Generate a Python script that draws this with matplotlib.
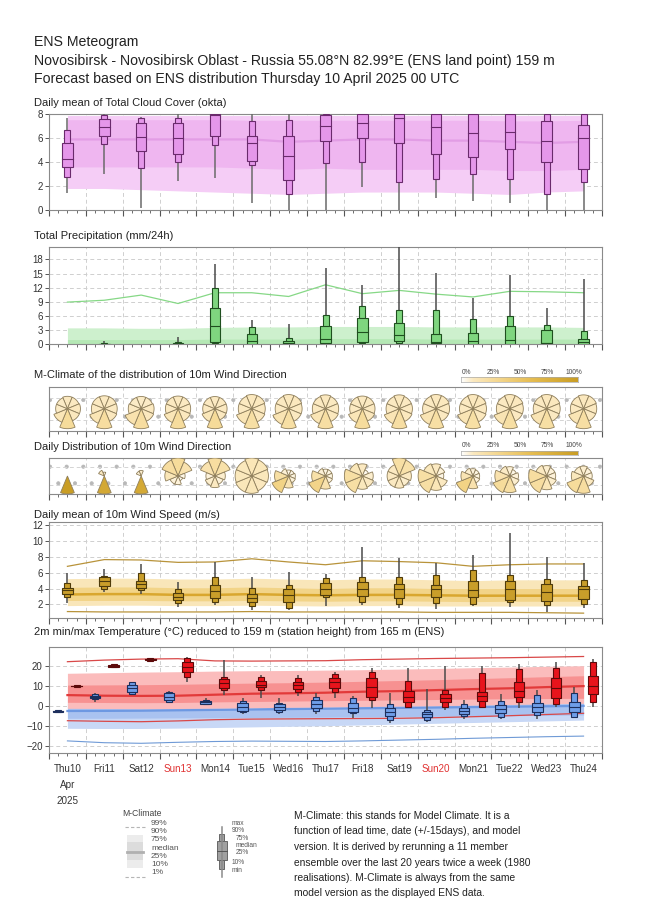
import numpy as np
import matplotlib
matplotlib.use('Agg')
import matplotlib.pyplot as plt
from matplotlib.patches import Rectangle, Polygon
from matplotlib.colors import LinearSegmentedColormap

plt.rcParams['font.family'] = ['Liberation Sans', 'DejaVu Sans']
plt.rcParams['hatch.linewidth'] = 0.5

# ---------------- data ----------------
day_labels = ['Thu10', 'Fri11', 'Sat12', 'Sun13', 'Mon14', 'Tue15', 'Wed16', 'Thu17',
              'Fri18', 'Sat19', 'Sun20', 'Mon21', 'Tue22', 'Wed23', 'Thu24']

# total cloud cover (okta), ENS daily boxes
cloud_min = [1.4, 3.0, 0.2, 2.4, 2.7, 0.6, 0.0, 0.0, 1.9, 0.0, 1.0, 0.75, 0.6, 0.0, 0.0]
cloud_p10 = [2.8, 5.5, 3.5, 4.0, 5.4, 3.8, 1.3, 3.9, 4.0, 2.3, 2.6, 3.0, 2.6, 1.3, 2.3]
cloud_p25 = [3.6, 6.2, 4.9, 4.7, 6.2, 4.1, 2.5, 5.8, 6.0, 5.6, 4.7, 4.4, 5.1, 4.0, 3.4]
cloud_med = [4.3, 6.9, 6.1, 6.0, 7.9, 5.6, 4.5, 7.0, 7.3, 7.7, 6.9, 6.4, 6.5, 5.8, 6.0]
cloud_p75 = [5.6, 7.6, 7.3, 7.3, 8.0, 6.2, 6.2, 7.9, 8.0, 8.0, 8.0, 8.0, 8.0, 7.45, 7.1]
cloud_p90 = [6.7, 7.9, 7.7, 7.7, 8.0, 7.4, 7.5, 8.0, 8.0, 8.0, 8.0, 8.0, 8.0, 8.0, 8.0]
cloud_max = [7.7, 8.0, 7.8, 8.0, 8.0, 8.0, 8.0, 8.0, 8.0, 8.0, 8.0, 8.0, 8.0, 8.0, 8.0]
# cloud M-climate
cloud_c10 = [1.8, 1.8, 1.7, 1.6, 1.5, 1.4, 1.3, 1.4, 1.5, 1.5, 1.5, 1.4, 1.3, 1.5, 1.6]
cloud_c25 = [3.6, 3.6, 3.6, 3.6, 3.6, 3.5, 3.4, 3.5, 3.4, 3.4, 3.4, 3.4, 3.3, 3.3, 3.4]
cloud_c50 = [5.9, 5.9, 5.9, 5.9, 5.9, 5.9, 5.7, 5.8, 5.9, 5.9, 5.8, 5.8, 5.7, 5.6, 5.7]
cloud_c75 = [7.55, 7.55, 7.55, 7.55, 7.55, 7.5, 7.5, 7.5, 7.5, 7.5, 7.5, 7.5, 7.45, 7.45, 7.5]
cloud_c90 = [7.9, 7.9, 7.9, 7.9, 7.9, 7.9, 7.9, 7.9, 7.9, 7.9, 7.9, 7.9, 7.9, 7.9, 7.9]

# total precipitation (mm/24h)
prec_min = [0.0] * 15
prec_p10 = [0, 0, 0, 0, 0.1, 0, 0, 0, 0.1, 0.15, 0, 0, 0, 0, 0]
prec_p25 = [0, 0, 0, 0, 0.3, 0, 0, 0.1, 0.3, 0.5, 0.1, 0, 0, 0.1, 0]
prec_med = [0, 0, 0, 0.05, 3.7, 0.6, 0.1, 1.1, 2.5, 1.9, 0.3, 0.5, 0.8, 0.2, 0.3]
prec_p75 = [0, 0.05, 0, 0.2, 7.6, 2.1, 0.6, 3.9, 5.6, 4.5, 2.1, 2.3, 3.7, 2.9, 1.1]
prec_p90 = [0, 0.1, 0, 0.3, 12.0, 3.6, 1.3, 6.1, 8.0, 7.3, 7.3, 5.4, 6.0, 4.1, 2.8]
prec_max = [0, 0.6, 0, 1.5, 17.0, 5.1, 4.3, 16.1, 12.6, 21.0, 15.2, 9.8, 14.6, 7.7, 13.9]
prec_c75 = [0.9, 0.9, 0.9, 0.9, 1.0, 1.0, 1.0, 1.1, 1.1, 1.1, 1.0, 1.0, 1.0, 1.0, 1.0]
prec_c90 = [3.4, 3.4, 3.3, 3.3, 3.5, 3.6, 3.6, 3.7, 3.7, 3.7, 3.6, 3.6, 3.6, 3.6, 3.5]
prec_c99 = [8.9, 9.3, 10.4, 8.6, 10.9, 10.9, 10.1, 12.6, 10.7, 11.4, 10.6, 10.0, 11.2, 11.1, 10.9]

# 10m wind direction, 8 sectors (N, NE, E, SE, S, SW, W, NW)
wd_mclim = [
    [0.10, 0.10, 0.11, 0.11, 0.26, 0.14, 0.09, 0.09],
    [0.10, 0.10, 0.10, 0.11, 0.24, 0.15, 0.10, 0.10],
    [0.09, 0.09, 0.10, 0.11, 0.24, 0.18, 0.10, 0.09],
    [0.10, 0.10, 0.10, 0.11, 0.25, 0.14, 0.10, 0.10],
    [0.10, 0.10, 0.10, 0.10, 0.27, 0.13, 0.10, 0.10],
    [0.11, 0.11, 0.10, 0.11, 0.22, 0.15, 0.10, 0.10],
    [0.11, 0.11, 0.10, 0.10, 0.22, 0.16, 0.10, 0.10],
    [0.11, 0.10, 0.10, 0.11, 0.23, 0.15, 0.10, 0.10],
    [0.10, 0.10, 0.10, 0.11, 0.25, 0.14, 0.10, 0.10],
    [0.11, 0.10, 0.10, 0.11, 0.23, 0.15, 0.10, 0.10],
    [0.11, 0.11, 0.10, 0.10, 0.22, 0.16, 0.10, 0.10],
    [0.11, 0.11, 0.10, 0.11, 0.22, 0.15, 0.10, 0.10],
    [0.11, 0.11, 0.10, 0.10, 0.22, 0.16, 0.10, 0.10],
    [0.11, 0.11, 0.10, 0.10, 0.22, 0.16, 0.10, 0.10],
    [0.11, 0.11, 0.10, 0.10, 0.23, 0.15, 0.10, 0.10],
]
wd_daily = [
    [0.00, 0.00, 0.00, 0.00, 1.00, 0.00, 0.00, 0.00],
    [0.04, 0.00, 0.00, 0.00, 0.86, 0.00, 0.00, 0.10],
    [0.08, 0.00, 0.00, 0.00, 0.85, 0.00, 0.00, 0.07],
    [0.26, 0.18, 0.04, 0.02, 0.06, 0.06, 0.14, 0.24],
    [0.24, 0.20, 0.08, 0.06, 0.10, 0.08, 0.06, 0.18],
    [0.14, 0.13, 0.12, 0.11, 0.13, 0.13, 0.12, 0.12],
    [0.04, 0.04, 0.05, 0.06, 0.16, 0.36, 0.22, 0.07],
    [0.05, 0.05, 0.05, 0.06, 0.18, 0.34, 0.20, 0.07],
    [0.10, 0.03, 0.08, 0.10, 0.12, 0.22, 0.22, 0.13],
    [0.22, 0.20, 0.10, 0.08, 0.10, 0.10, 0.10, 0.10],
    [0.10, 0.06, 0.04, 0.10, 0.14, 0.22, 0.22, 0.12],
    [0.06, 0.05, 0.05, 0.06, 0.18, 0.36, 0.16, 0.08],
    [0.07, 0.04, 0.06, 0.08, 0.22, 0.26, 0.18, 0.09],
    [0.08, 0.06, 0.06, 0.08, 0.14, 0.24, 0.24, 0.10],
    [0.08, 0.06, 0.06, 0.10, 0.24, 0.26, 0.12, 0.08],
]

# 10m wind speed (m/s)
wind_min = [2.2, 3.6, 3.25, 1.7, 1.9, 1.3, 1.3, 1.8, 1.9, 1.6, 1.4, 1.8, 1.7, 1.0, 1.5]
wind_p10 = [2.95, 3.95, 3.8, 2.2, 2.3, 1.8, 1.5, 2.9, 2.3, 2.1, 2.2, 2.1, 2.3, 1.9, 2.1]
wind_p25 = [3.3, 4.3, 4.1, 2.5, 2.75, 2.3, 2.3, 3.2, 3.0, 2.85, 2.95, 2.9, 2.6, 2.4, 2.65]
wind_med = [3.8, 5.0, 4.6, 2.95, 3.7, 2.85, 3.2, 4.0, 4.0, 3.9, 3.9, 3.8, 3.9, 3.6, 3.9]
wind_p75 = [4.1, 5.4, 5.0, 3.4, 4.4, 3.3, 3.9, 4.7, 4.8, 4.6, 4.5, 5.0, 5.0, 4.6, 4.35]
wind_p90 = [4.75, 5.6, 5.95, 3.9, 5.45, 4.1, 4.5, 5.3, 5.45, 5.4, 5.7, 6.4, 5.7, 5.25, 5.1]
wind_max = [5.95, 6.5, 7.1, 4.8, 7.3, 5.4, 6.1, 5.8, 9.2, 7.8, 7.25, 8.25, 11.0, 7.95, 7.2]
wind_c01 = [1.1, 1.05, 1.05, 1.05, 1.05, 1.1, 1.05, 1.05, 1.05, 1.05, 1.0, 1.0, 1.0, 0.95, 0.9]
wind_c10 = [1.85, 1.9, 1.9, 1.85, 1.85, 1.9, 1.85, 1.8, 1.85, 1.85, 1.8, 1.8, 1.8, 1.8, 1.8]
wind_c25 = [2.5, 2.5, 2.5, 2.45, 2.45, 2.5, 2.45, 2.4, 2.45, 2.45, 2.4, 2.35, 2.4, 2.4, 2.4]
wind_c50 = [3.25, 3.3, 3.3, 3.2, 3.2, 3.3, 3.2, 3.15, 3.2, 3.2, 3.15, 3.1, 3.1, 3.1, 3.1]
wind_c75 = [4.15, 4.2, 4.2, 4.1, 4.1, 4.2, 4.1, 4.0, 4.1, 4.1, 4.0, 4.0, 4.0, 4.0, 4.0]
wind_c90 = [5.25, 5.3, 5.3, 5.2, 5.2, 5.3, 5.2, 5.1, 5.2, 5.2, 5.1, 5.0, 5.1, 5.1, 5.1]
wind_c99 = [6.8, 7.65, 7.6, 7.3, 7.35, 7.75, 7.35, 7.0, 7.5, 7.4, 7.25, 6.8, 7.0, 7.1, 7.1]

# 2m temperature: min (06 UTC slot) and max (18 UTC slot) boxes
# each row: min, p10, p25, median, p75, p90, max
tmin_box = [
    [-3.5, -3.3, -3.0, -2.7, -2.4, -2.2, -2.0],
    [2.0, 3.4, 3.9, 4.4, 5.0, 5.7, 6.2],
    [5.35, 5.85, 7.0, 8.7, 10.35, 11.7, 12.0],
    [1.7, 2.0, 2.85, 4.5, 6.2, 7.0, 7.5],
    [0.35, 0.7, 1.0, 1.7, 2.3, 2.85, 3.7],
    [-4.3, -3.3, -2.65, -0.5, 1.2, 2.35, 4.0],
    [-4.3, -3.3, -2.15, -0.8, 0.7, 1.5, 4.0],
    [-4.3, -2.65, -1.3, 0.85, 2.85, 4.5, 6.2],
    [-6.3, -3.8, -3.0, -1.3, 1.2, 4.0, 5.0],
    [-8.8, -7.15, -5.0, -3.3, -1.3, 0.7, 6.2],
    [-8.0, -7.15, -5.5, -4.0, -3.0, -2.15, 8.2],
    [-6.8, -5.0, -4.3, -2.65, -1.0, 1.0, 2.85],
    [-6.8, -5.5, -3.8, -1.65, 0.35, 2.35, 5.7],
    [-6.8, -4.65, -3.3, -0.5, 1.2, 5.35, 7.85],
    [-6.3, -5.5, -3.3, -0.5, 2.0, 6.2, 9.5],
]
tmax_box = [
    [9.3, 9.5, 9.7, 9.9, 10.1, 10.3, 10.5],
    [19.0, 19.2, 19.6, 20.0, 20.3, 20.7, 21.0],
    [22.2, 22.4, 22.8, 23.2, 23.4, 23.7, 24.0],
    [12.0, 14.5, 17.0, 19.5, 21.7, 23.7, 24.5],
    [5.35, 7.85, 9.0, 11.2, 13.2, 14.2, 22.85],
    [3.7, 7.85, 9.2, 10.35, 12.5, 14.2, 15.35],
    [5.0, 7.0, 8.35, 10.2, 12.0, 13.7, 15.35],
    [3.7, 7.0, 8.7, 12.0, 14.0, 15.7, 17.0],
    [-1.0, 2.85, 4.5, 9.5, 13.7, 16.7, 18.7],
    [-1.0, -0.5, 1.7, 4.5, 7.35, 12.35, 19.0],
    [-2.15, -0.5, 1.7, 4.0, 5.85, 7.85, 20.0],
    [-1.0, -0.5, 2.35, 4.85, 7.0, 16.2, 20.0],
    [-1.3, 2.0, 4.5, 7.35, 11.7, 18.35, 20.7],
    [-0.5, 0.85, 3.7, 8.7, 13.7, 19.0, 22.0],
    [-0.5, 2.0, 5.7, 9.85, 14.85, 22.0, 23.2],
]
tmax_c01 = [-7.5, -7.8, -8.0, -7.6, -7.0, -6.7, -6.6, -6.5, -6.4, -6.3, -6.0, -5.5, -5.0, -4.4, -3.8]
tmax_c10 = [-1.3, -1.4, -1.5, -1.4, -1.2, -1.0, -0.8, -0.6, -0.4, -0.2, 0.0, 0.3, 0.6, 0.9, 1.2]
tmax_c25 = [1.7, 1.6, 1.5, 1.6, 1.9, 2.1, 2.3, 2.5, 2.7, 2.9, 3.1, 3.3, 3.5, 3.6, 3.7]
tmax_c50 = [5.3, 5.0, 4.9, 5.0, 5.5, 6.0, 6.2, 6.5, 7.0, 7.3, 7.8, 8.3, 8.7, 9.3, 9.8]
tmax_c75 = [10.3, 10.4, 10.5, 10.7, 11.0, 11.3, 11.5, 11.8, 12.2, 12.6, 13.0, 13.5, 14.0, 14.5, 15.0]
tmax_c90 = [16.2, 16.5, 16.8, 17.0, 17.3, 17.5, 17.6, 17.8, 18.0, 18.3, 18.6, 19.0, 19.3, 19.7, 20.0]
tmax_c99 = [22.0, 22.8, 23.3, 23.5, 22.4, 22.3, 22.4, 22.5, 23.0, 23.3, 23.6, 23.8, 24.0, 24.3, 24.6]
tmin_c01 = [-17.6, -18.5, -18.8, -18.3, -17.9, -17.7, -17.8, -17.9, -17.6, -17.2, -16.8, -16.3, -15.9, -15.5, -15.2]
tmin_c10 = [-11.3, -11.4, -11.4, -11.2, -10.9, -10.6, -10.3, -10.0, -9.6, -9.2, -8.8, -8.4, -8.0, -7.6, -7.2]
tmin_c25 = [-6.3, -6.3, -6.2, -6.1, -6.0, -5.9, -5.8, -5.7, -5.5, -5.4, -5.3, -5.1, -5.0, -4.8, -4.6]
tmin_c50 = [-2.65, -2.6, -2.5, -2.3, -2.1, -1.9, -1.7, -1.5, -1.3, -1.1, -0.9, -0.7, -0.5, -0.3, -0.1]
tmin_c75 = [1.0, 1.0, 1.1, 1.2, 1.4, 1.6, 1.8, 2.0, 2.2, 2.4, 2.6, 2.8, 3.0, 3.2, 3.4]
tmin_c90 = [4.0, 4.0, 4.1, 4.3, 4.5, 4.7, 4.9, 5.1, 5.3, 5.5, 5.7, 5.9, 6.1, 6.3, 6.5]

# ---------------- layout helpers ----------------
W, H = 650, 916
X0, X1 = 49, 602
PXD = (X1 - X0) / 15.0      # pixels per day
BN = 6.0 / PXD              # narrow box width (days)
BW = 10.5 / PXD             # wide box width (days)
xc = np.arange(15) + 0.5

fig = plt.figure(figsize=(W / 100, H / 100), dpi=100)


def make_ax(top, bottom):
    return fig.add_axes([X0 / W, 1 - bottom / H, (X1 - X0) / W, (bottom - top) / H])


def style_ax(ax, ylim, yticks):
    ax.set_xlim(0, 15)
    ax.set_ylim(*ylim)
    for s in ax.spines.values():
        s.set_color('#8a8a8a')
        s.set_linewidth(0.8)
    ax.set_xticks(np.arange(0, 16))
    ax.set_xticks(np.arange(0, 15.01, 0.25), minor=True)
    ax.tick_params(axis='x', which='major', length=4.5, width=0.8, color='#555555', labelbottom=False)
    ax.tick_params(axis='x', which='minor', length=2.5, width=0.6, color='#555555')
    if yticks is None:
        ax.set_yticks([])
    else:
        ax.set_yticks(yticks)
        ax.tick_params(axis='y', length=3, width=0.7, color='#555555', labelsize=7,
                       labelcolor='#333333', pad=1.5)
        for yv in yticks:
            ax.axhline(yv, color='#cfcfcf', lw=0.7, ls=(0, (4, 3)), zorder=0)
    for d in range(1, 15):
        ax.axvline(d, color='#cfcfcf', lw=0.7, ls=(0, (4, 3)), zorder=0)


def title(y, txt, size=8.05):
    fig.text(34 / W, 1 - y / H, txt, fontsize=size, va='center', ha='left', color='#222222')


def draw_box(ax, x, st, fc, ec, wc='#5a5a5a'):
    mn, p10, p25, md, p75, p90, mx = st
    ax.plot([x, x], [mn, mx], color=wc, lw=1.1, zorder=3, solid_capstyle='butt')
    ax.add_patch(Rectangle((x - BN / 2, p10), BN, p90 - p10, fc=fc, ec=ec, lw=0.8, zorder=4))
    ax.add_patch(Rectangle((x - BW / 2, p25), BW, p75 - p25, fc=fc, ec=ec, lw=0.8, zorder=5))
    ax.plot([x - BW / 2, x + BW / 2], [md, md], color=ec, lw=0.8, zorder=6)


# ---------------- header ----------------
title(42, 'ENS Meteogram', 10.2)
title(61, 'Novosibirsk - Novosibirsk Oblast - Russia 55.08\u00b0N 82.99\u00b0E (ENS land point) 159 m', 10.2)
title(79, 'Forecast based on ENS distribution Thursday 10 April 2025 00 UTC', 10.2)

# ---------------- cloud cover ----------------
title(103, 'Daily mean of Total Cloud Cover (okta)')
ax = make_ax(114.3, 210)
style_ax(ax, (0, 8), [0, 2, 4, 6, 8])
ax.fill_between(xc, cloud_c10, cloud_c90, color='#f5cdf6', lw=0, zorder=1)
ax.fill_between(xc, cloud_c25, cloud_c75, color='#efb6f0', lw=0, zorder=1)
ax.plot(xc, cloud_c50, color='#e29de5', lw=1.6, zorder=2)
for i in range(15):
    st = [cloud_min[i], cloud_p10[i], cloud_p25[i], cloud_med[i], cloud_p75[i], cloud_p90[i], cloud_max[i]]
    draw_box(ax, xc[i], st, '#e597ea', '#6a2a6c', '#6a6a6a')

# ---------------- precipitation ----------------
title(236, 'Total Precipitation (mm/24h)')
ax = make_ax(247.3, 343.8)
style_ax(ax, (0, 20.6), [0, 3, 6, 9, 12, 15, 18])
ax.fill_between(xc, 0, prec_c90, color='#cdf0cd', lw=0, zorder=1)
ax.fill_between(xc, 0, prec_c75, color='#b5e8b5', lw=0, zorder=1)
ax.plot(xc, prec_c99, color='#86d886', lw=0.9, zorder=2)
for i in range(15):
    if prec_max[i] <= 0:
        continue
    st = [prec_min[i], prec_p10[i], prec_p25[i], prec_med[i], prec_p75[i], prec_p90[i], prec_max[i]]
    draw_box(ax, xc[i], st, '#7fd67f', '#1f4f1f', '#4a4a4a')

# ---------------- wind direction roses ----------------
cmap_wd = LinearSegmentedColormap.from_list(
    'wd', [(0, '#ffffff'), (0.1, '#fbe9c0'), (0.3, '#f5d892'), (0.6, '#e6bd52'), (1.0, '#c99d24')])


def wd_panel(top, bottom, roses, R, ttl_y, ttl, cb_y):
    title(ttl_y, ttl)
    ax = make_ax(top, bottom)
    h = bottom - top
    style_ax(ax, (-h / 2, h / 2), None)
    ax.add_patch(Rectangle((0, -h / 2), 15, h, fc='none', ec='#b8b8b8', hatch='.', lw=0, zorder=0))
    for yv in (-h / 4, h / 4):
        ax.axhline(yv, color='#d4d4d4', lw=0.7, ls=(0, (4, 3)), zorder=0)
    for i, fr in enumerate(roses):
        fmax = max(fr)
        for k, f in enumerate(fr):
            if f <= 0:
                continue
            r = R * np.sqrt(f / fmax)
            ang = np.radians(np.linspace(k * 45 - 22.5, k * 45 + 22.5, 10))
            px = np.concatenate([[0], r * np.sin(ang)]) / PXD + xc[i]
            py = np.concatenate([[0], r * np.cos(ang)])
            ax.add_patch(Polygon(np.column_stack([px, py]), closed=True, fc=cmap_wd(f),
                                 ec='#8f7f5c', lw=0.6, zorder=3))
    # colour scale
    cax = fig.add_axes([461 / W, 1 - (cb_y + 2.5) / H, 117 / W, 4.5 / H])
    cax.imshow(np.linspace(0, 1, 200)[None, :], aspect='auto', cmap=cmap_wd, extent=(0, 1, 0, 1))
    cax.set_xticks([])
    cax.set_yticks([])
    for s in cax.spines.values():
        s.set_color('#aaaaaa')
        s.set_linewidth(0.5)
    for j, lab in enumerate(['0%', '25%', '50%', '75%', '100%']):
        fig.text((466 + j * 27) / W, 1 - (cb_y - 7) / H, lab, fontsize=4.8, ha='center',
                 va='center', color='#444444')


wd_panel(386.7, 430.7, wd_mclim, 20, 375, 'M-Climate of the distribution of 10m Wind Direction', 379.5)
wd_panel(457.7, 494.3, wd_daily, 18, 447, 'Daily Distribution of 10m Wind Direction', 452.5)

# ---------------- wind speed ----------------
title(515, 'Daily mean of 10m Wind Speed (m/s)')
ax = make_ax(522.3, 618.3)
style_ax(ax, (0.25, 12.35), [2, 4, 6, 8, 10, 12])
ax.fill_between(xc, wind_c10, wind_c90, color='#f9e6b9', lw=0, zorder=1)
ax.fill_between(xc, wind_c25, wind_c75, color='#f2d488', lw=0, zorder=1)
ax.plot(xc, wind_c50, color='#d9a72e', lw=1.8, zorder=2)
ax.plot(xc, wind_c99, color='#b8933a', lw=0.9, zorder=2)
ax.plot(xc, wind_c01, color='#b8933a', lw=0.9, zorder=2)
for i in range(15):
    st = [wind_min[i], wind_p10[i], wind_p25[i], wind_med[i], wind_p75[i], wind_p90[i], wind_max[i]]
    draw_box(ax, xc[i], st, '#c99e2a', '#4e3b0b', '#4a4a4a')

# ---------------- temperature ----------------
title(632, '2m min/max Temperature (\u00b0C) reduced to 159 m (station height) from 165 m (ENS)')
ax = make_ax(647.3, 752.7)
style_ax(ax, (-23.5, 29.2), [-20, -10, 0, 10, 20])
ax.fill_between(xc, tmin_c10, tmin_c90, color='#c8d8f6', lw=0, zorder=1)
ax.fill_between(xc, tmin_c25, tmin_c75, color='#a9c2f0', lw=0, zorder=1)
ax.plot(xc, tmin_c50, color='#6d98e2', lw=1.6, zorder=1)
ax.plot(xc, tmin_c01, color='#6f9ad6', lw=0.8, zorder=1)
ax.fill_between(xc, tmax_c10, tmax_c90, color='#fbbcbc', lw=0, zorder=1)
ax.fill_between(xc, tmax_c25, tmax_c75, color='#f79191', lw=0, zorder=1)
ax.plot(xc, tmax_c50, color='#e23a3a', lw=1.6, zorder=2)
ax.plot(xc, tmax_c99, color='#d94848', lw=0.9, zorder=2)
ax.plot(xc, tmax_c01, color='#d94848', lw=0.9, zorder=2)
for i in range(15):
    draw_box(ax, i + 0.25, tmin_box[i], '#6f9ee8', '#1d2f5c', '#4a4a4a')
    draw_box(ax, i + 0.75, tmax_box[i], '#e8141c', '#5c0a0a', '#4a4a4a')

xt = ax.get_xaxis_transform()
for i, lab in enumerate(day_labels):
    col = '#e03030' if lab.startswith('Sun') else '#333333'
    ax.annotate(lab, (xc[i], 0), xycoords=xt, xytext=(0, -11.5), textcoords='offset points',
                ha='center', va='center', fontsize=7.1, color=col)
ax.annotate('Apr', (xc[0], 0), xycoords=xt, xytext=(0, -23), textcoords='offset points',
            ha='center', va='center', fontsize=7.1, color='#333333')
ax.annotate('2025', (xc[0], 0), xycoords=xt, xytext=(0, -34.5), textcoords='offset points',
            ha='center', va='center', fontsize=7.1, color='#333333')

# ---------------- legend ----------------
lg = fig.add_axes([0, 0, 1, 1])
lg.set_xlim(0, W)
lg.set_ylim(H, 0)
lg.axis('off')
lg.text(122, 813, 'M-Climate', fontsize=6.2, va='center', color='#444444')
lg.add_patch(Rectangle((127, 835), 16, 33, fc='#ececec', lw=0))
lg.add_patch(Rectangle((127, 842), 16, 18, fc='#dcdcdc', lw=0))
lg.plot([127, 143], [851.5, 851.5], color='#b0b0b0', lw=2)
for yy in (826.5, 876.5):
    lg.plot([125, 145], [yy, yy], color='#b5b5b5', lw=0.8, ls=(0, (3, 2)))
for j, lab in enumerate(['99%', '90%', '75%', 'median', '25%', '10%', '1%']):
    lg.text(151, 823.5 + j * 8.2, lab, fontsize=6.0, va='center', color='#555555')

bx = 221.7
lg.plot([bx, bx], [826.5, 877], color='#8a8a8a', lw=1.1)
lg.add_patch(Rectangle((bx - 2.8, 833.5), 5.6, 35, fc='#a0a0a0', ec='#666666', lw=0.7))
lg.add_patch(Rectangle((bx - 5, 841), 10, 19, fc='#a0a0a0', ec='#666666', lw=0.7))
lg.plot([bx - 5, bx + 5], [850.7, 850.7], color='#555555', lw=0.7)
box_labs = [('max', 232, 823.5), ('90%', 232, 831), ('75%', 236, 838.5), ('median', 236, 845.5),
            ('25%', 236, 853), ('10%', 232, 862), ('min', 232, 870)]
for lab, lx, ly in box_labs:
    lg.text(lx, ly, lab, fontsize=4.8, va='center', color='#555555')

para = ['M-Climate: this stands for Model Climate. It is a',
        'function of lead time, date (+/-15days), and model',
        'version. It is derived by rerunning a 11 member',
        'ensemble over the last 20 years twice a week (1980',
        'realisations). M-Climate is always from the same',
        'model version as the displayed ENS data.']
for j, line in enumerate(para):
    lg.text(294, 816 + j * 15.5, line, fontsize=7.4, va='center', color='#222222')

fig.savefig('out.png', dpi=100)
